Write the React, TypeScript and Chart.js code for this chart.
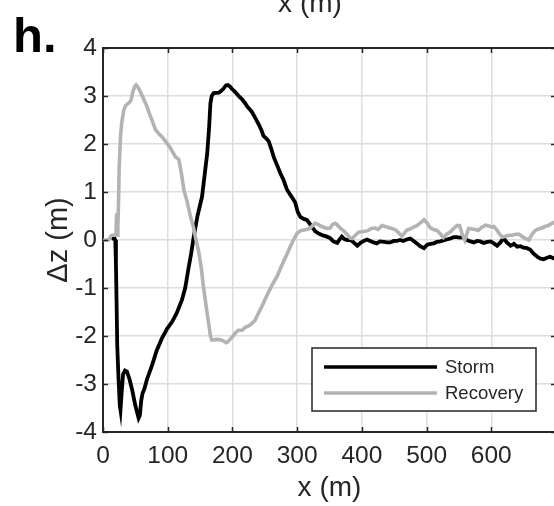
import React, { useEffect, useRef } from 'react';
import { Chart, registerables } from 'chart.js';

Chart.register(...registerables);

// ---- data ----
const seriesNames = ['Storm', 'Recovery'];

const stormX = [13, 17, 19, 20, 21, 22, 24, 26, 27, 29, 31, 34, 37, 41, 45, 50, 55, 57, 59, 61, 64, 68, 76, 83, 91, 99, 107, 114, 122, 127, 132, 136, 140, 146, 153, 157, 161, 164, 166, 168, 171, 179, 182, 186, 190, 193, 196, 199, 203, 207, 211, 215, 219, 223, 227, 230, 235, 241, 245, 248, 252, 256, 260, 264, 269, 274, 279, 284, 289, 294, 297, 301, 305, 310, 315, 321, 328, 334, 341, 346, 351, 356, 362, 366, 369, 373, 377, 383, 388, 393, 398, 403, 408, 413, 418, 423, 428, 434, 439, 444, 449, 454, 459, 464, 469, 475, 480, 485, 490, 496, 501, 506, 511, 516, 521, 526, 531, 537, 542, 547, 552, 557, 562, 568, 573, 578, 583, 588, 594, 599, 604, 609, 614, 619, 624, 630, 635, 640, 645, 650, 655, 660, 665, 671, 676, 681, 686, 691, 696, 701];
const stormZ = [0.02, 0.05, 0.0, -0.5, -1.3, -2.2, -2.9, -3.45, -3.54, -3.15, -2.8, -2.72, -2.74, -2.9, -3.12, -3.45, -3.71, -3.65, -3.35, -3.2, -3.1, -2.9, -2.6, -2.3, -2.05, -1.85, -1.7, -1.52, -1.25, -1.0, -0.6, -0.3, 0.05, 0.5, 0.9, 1.35, 1.8, 2.35, 2.85, 3.0, 3.06, 3.07, 3.1, 3.15, 3.22, 3.23, 3.2, 3.15, 3.1, 3.04, 2.98, 2.93, 2.86, 2.78, 2.72, 2.67, 2.55, 2.4, 2.28, 2.17, 2.12, 2.06, 1.9, 1.72, 1.56, 1.39, 1.25, 1.06, 0.95, 0.85, 0.78, 0.58, 0.48, 0.44, 0.42, 0.31, 0.18, 0.13, 0.09, 0.07, 0.04, -0.03, -0.06, 0.02, 0.07, 0.02, 0.0, 0.0, -0.06, -0.12, -0.06, -0.02, 0.01, -0.02, -0.05, -0.07, -0.03, -0.04, -0.05, -0.05, -0.02, -0.02, 0.0, -0.02, 0.01, 0.03, -0.02, -0.07, -0.13, -0.17, -0.1, -0.08, -0.07, -0.04, -0.03, -0.01, 0.01, 0.03, 0.06, 0.06, 0.05, 0.06, 0.0, -0.03, -0.05, -0.02, -0.03, -0.06, -0.04, -0.03, -0.07, -0.12, -0.05, 0.04, -0.05, -0.12, -0.08, -0.14, -0.13, -0.16, -0.17, -0.2, -0.28, -0.35, -0.39, -0.4, -0.37, -0.35, -0.38, -0.37];

const recoveryX = [0, 5, 9, 12, 14, 18, 20, 21, 22, 23, 24, 25, 27, 29, 32, 35, 40, 43, 46, 49, 51, 54, 58, 63, 68, 72, 77, 81, 86, 91, 97, 104, 109, 112, 117, 121, 125, 130, 135, 140, 143, 148, 152, 155, 158, 161, 164, 166, 168, 172, 176, 181, 186, 190, 193, 197, 201, 205, 209, 215, 220, 225, 230, 235, 240, 245, 250, 256, 262, 269, 274, 279, 284, 290, 295, 300, 305, 310, 315, 320, 324, 328, 333, 338, 342, 346, 351, 355, 359, 363, 367, 372, 377, 382, 385, 390, 395, 400, 405, 410, 415, 420, 425, 431, 436, 441, 446, 452, 457, 462, 466, 470, 475, 480, 485, 490, 496, 501, 506, 511, 516, 521, 526, 531, 537, 542, 547, 551, 555, 559, 562, 565, 570, 575, 580, 585, 591, 596, 601, 604, 609, 613, 617, 622, 627, 632, 638, 643, 648, 653, 658, 663, 668, 673, 678, 683, 688, 693, 698, 701];
const recoveryZ = [0.0, 0.0, 0.0, 0.08, 0.1, 0.1, 0.12, 0.55, 0.1, 0.3, 0.8, 1.5, 2.15, 2.45, 2.7, 2.8, 2.86, 2.9, 3.08, 3.2, 3.23, 3.18, 3.08, 2.93, 2.78, 2.62, 2.45, 2.3, 2.22, 2.15, 2.05, 1.92, 1.8, 1.73, 1.68, 1.4, 1.04, 0.8, 0.5, 0.25, 0.05, -0.25, -0.6, -0.95, -1.25, -1.53, -1.8, -2.0, -2.08, -2.08, -2.07, -2.08, -2.1, -2.14, -2.12, -2.06, -2.0, -1.93, -1.88, -1.88, -1.82, -1.79, -1.74, -1.67, -1.53, -1.4, -1.25, -1.08, -0.92, -0.76, -0.6, -0.45, -0.3, -0.12, 0.02, 0.14, 0.19, 0.21, 0.22, 0.25, 0.3, 0.35, 0.32, 0.28, 0.26, 0.24, 0.25, 0.33, 0.35, 0.3, 0.24, 0.19, 0.12, 0.04, 0.03, 0.1, 0.16, 0.17, 0.18, 0.2, 0.24, 0.25, 0.22, 0.3, 0.28, 0.26, 0.24, 0.21, 0.15, 0.08, 0.15, 0.21, 0.23, 0.27, 0.3, 0.35, 0.42, 0.35, 0.25, 0.22, 0.2, 0.13, 0.05, 0.12, 0.17, 0.24, 0.3, 0.3, 0.12, 0.0, 0.12, 0.24, 0.23, 0.22, 0.2, 0.26, 0.31, 0.29, 0.27, 0.28, 0.2, 0.12, 0.06, 0.08, 0.1, 0.1, 0.12, 0.12, 0.07, 0.03, 0.0, 0.12, 0.2, 0.23, 0.25, 0.28, 0.3, 0.34, 0.37, 0.38];

const xTickValues = [0, 100, 200, 300, 400, 500, 600, 700];
const xTickLabels = ['0', '100', '200', '300', '400', '500', '600', ''];
const yTickValues = [-4, -3, -2, -1, 0, 1, 2, 3, 4];
const yTickLabels = ['-4', '-3', '-2', '-1', '0', '1', '2', '3', '4'];

const panelLabel = 'h.';
const xTitle = 'x (m)';
const yTitle = 'Δz (m)';
const upperPanelTitle = 'x (m)';

const FONT = "'Liberation Sans', Arial, Helvetica, sans-serif";
const AXIS_COLOR = '#262626';
const STORM_COLOR = '#000000';
const RECOVERY_COLOR = '#b3b3b3';
const GRID_COLOR = '#dedede';

const decorPlugin = {
  id: 'decor',
  afterDraw(chart: any) {
    const { ctx, chartArea: a, scales } = chart;
    const xs = scales.x;
    const ys = scales.y;
    ctx.save();

    // top and right box lines
    ctx.strokeStyle = AXIS_COLOR;
    ctx.lineWidth = 2;
    ctx.beginPath();
    ctx.moveTo(a.left, a.top);
    ctx.lineTo(a.right, a.top);
    ctx.lineTo(a.right, a.bottom);
    ctx.stroke();

    // inward ticks
    ctx.lineWidth = 1.5;
    const tl = 5;
    ctx.beginPath();
    xTickValues.forEach((v) => {
      const px = Math.round(xs.getPixelForValue(v)) + 0.5;
      ctx.moveTo(px, a.bottom);
      ctx.lineTo(px, a.bottom - tl);
      ctx.moveTo(px, a.top);
      ctx.lineTo(px, a.top + tl);
    });
    yTickValues.forEach((v) => {
      const py = Math.round(ys.getPixelForValue(v)) + 0.5;
      ctx.moveTo(a.left, py);
      ctx.lineTo(a.left + tl, py);
      ctx.moveTo(a.right, py);
      ctx.lineTo(a.right - tl, py);
    });
    ctx.stroke();

    // legend box
    const lw = 224;
    const lh = 63;
    const lx = a.right - 20 - lw;
    const ly = a.bottom - 21 - lh;
    ctx.fillStyle = '#ffffff';
    ctx.fillRect(lx, ly, lw, lh);
    ctx.strokeStyle = AXIS_COLOR;
    ctx.lineWidth = 1.5;
    ctx.strokeRect(lx, ly, lw, lh);
    const colors = [STORM_COLOR, RECOVERY_COLOR];
    const rowY = [ly + 19, ly + 45];
    ctx.font = `18.5px ${FONT}`;
    ctx.textBaseline = 'middle';
    ctx.textAlign = 'left';
    seriesNames.forEach((name, i) => {
      ctx.strokeStyle = colors[i];
      ctx.lineWidth = 3.5;
      ctx.beginPath();
      ctx.moveTo(lx + 12, rowY[i]);
      ctx.lineTo(lx + 125, rowY[i]);
      ctx.stroke();
      ctx.fillStyle = AXIS_COLOR;
      ctx.fillText(name, lx + 133, rowY[i] + 1);
    });

    // axis titles
    ctx.fillStyle = AXIS_COLOR;
    ctx.font = `28px ${FONT}`;
    ctx.textAlign = 'center';
    ctx.textBaseline = 'alphabetic';
    ctx.fillText(xTitle, (a.left + a.right) / 2, 496);
    ctx.fillText(upperPanelTitle, 310, 12);

    ctx.save();
    ctx.translate(67, (a.top + a.bottom) / 2);
    ctx.rotate(-Math.PI / 2);
    ctx.font = `29px ${FONT}`;
    ctx.fillText(yTitle, 0, 0);
    ctx.restore();

    // panel label
    ctx.fillStyle = '#000000';
    ctx.font = `bold 49px ${FONT}`;
    ctx.textAlign = 'left';
    ctx.fillText(panelLabel, 13, 52);

    ctx.restore();
  },
};

export default function App() {
  const ref = useRef<HTMLCanvasElement | null>(null);

  useEffect(() => {
    if (!ref.current) return;
    const chart = new Chart(ref.current, {
      type: 'line',
      data: {
        datasets: [
          {
            label: seriesNames[0],
            data: stormX.map((x, i) => ({ x, y: stormZ[i] })),
            borderColor: STORM_COLOR,
            borderWidth: 3.8,
            pointRadius: 0,
            tension: 0,
            fill: false,
            order: 1,
          },
          {
            label: seriesNames[1],
            data: recoveryX.map((x, i) => ({ x, y: recoveryZ[i] })),
            borderColor: RECOVERY_COLOR,
            borderWidth: 3.6,
            pointRadius: 0,
            tension: 0,
            fill: false,
            order: 0,
          },
        ],
      },
      options: {
        animation: false,
        responsive: false,
        devicePixelRatio: 1,
        layout: { padding: { left: 0, top: 48, right: 14, bottom: 0 } },
        plugins: {
          legend: { display: false },
          tooltip: { enabled: false },
          title: { display: false },
        },
        scales: {
          x: {
            type: 'linear',
            min: 0,
            max: 700,
            afterFit: (s: any) => {
              s.height = 74;
            },
            afterBuildTicks: (s: any) => {
              s.ticks = xTickValues.map((v) => ({ value: v }));
            },
            ticks: {
              autoSkip: false,
              maxRotation: 0,
              padding: 10,
              color: AXIS_COLOR,
              font: { family: FONT, size: 24.5 },
              callback: (v: any) => {
                const i = xTickValues.indexOf(Number(v));
                return i >= 0 ? xTickLabels[i] : '';
              },
            },
            grid: { color: GRID_COLOR, lineWidth: 1.5, drawTicks: false, tickLength: 0 },
            border: { display: true, color: AXIS_COLOR, width: 2 },
          },
          y: {
            type: 'linear',
            min: -4,
            max: 4,
            afterFit: (s: any) => {
              s.width = 103;
            },
            afterBuildTicks: (s: any) => {
              s.ticks = yTickValues.map((v) => ({ value: v }));
            },
            ticks: {
              autoSkip: false,
              padding: 6,
              color: AXIS_COLOR,
              font: { family: FONT, size: 24.5 },
              callback: (v: any) => {
                const i = yTickValues.indexOf(Number(v));
                return i >= 0 ? yTickLabels[i] : '';
              },
            },
            grid: { color: GRID_COLOR, lineWidth: 1.5, drawTicks: false, tickLength: 0 },
            border: { display: true, color: AXIS_COLOR, width: 2 },
          },
        },
      },
      plugins: [decorPlugin],
    });
    return () => chart.destroy();
  }, []);

  return (
    <div
      style={{
        position: 'absolute',
        left: 0,
        top: 0,
        width: 554,
        height: 506,
        overflow: 'hidden',
        background: '#ffffff',
      }}
    >
      <canvas ref={ref} width={570} height={506} style={{ display: 'block' }} />
    </div>
  );
}
